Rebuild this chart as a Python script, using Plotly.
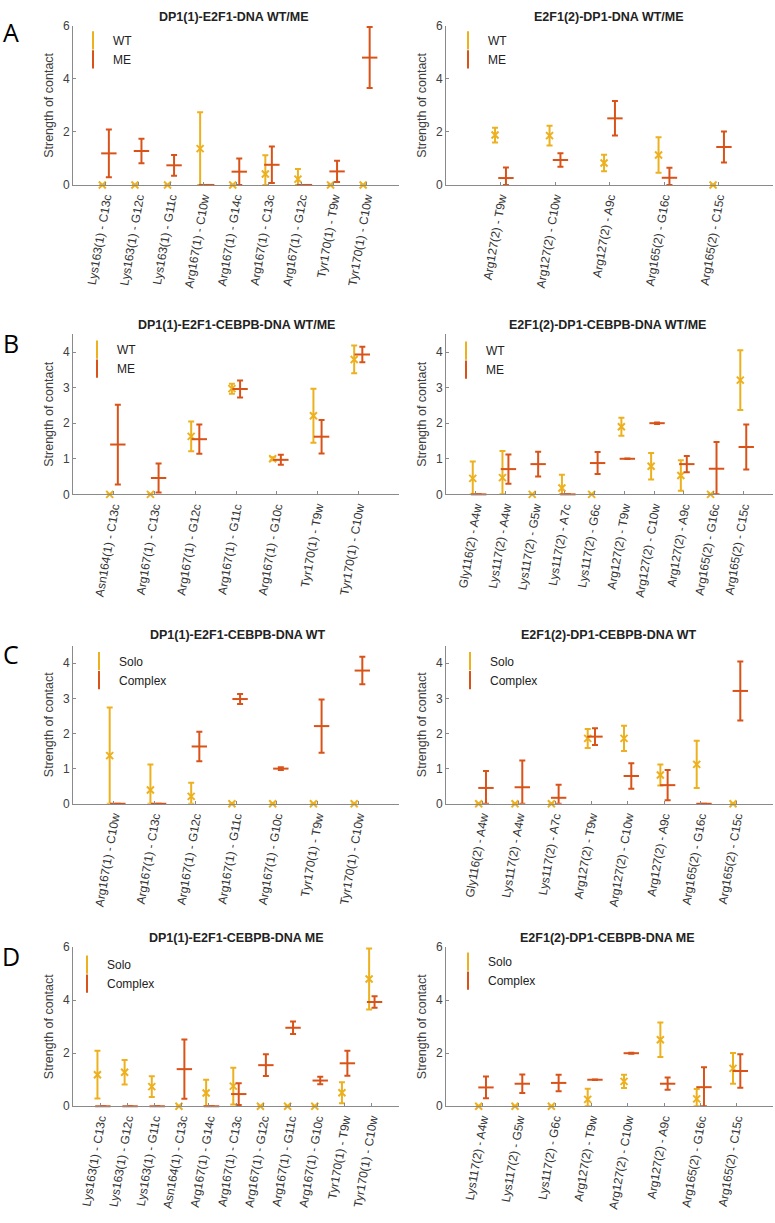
import numpy as np
import plotly.graph_objects as go

W, H = 775, 1223
C_A = "#EDB120"   # WT / Solo
C_B = "#D95319"   # ME / Complex

# ---------------- DATA ----------------
# Panel A left: DP1(1)-E2F1-DNA WT/ME
a1_cats = ["Lys163(1) - C13c", "Lys163(1) - G12c", "Lys163(1) - G11c", "Arg167(1) - C10w",
           "Arg167(1) - G14c", "Arg167(1) - C13c", "Arg167(1) - G12c", "Tyr170(1) - T9w", "Tyr170(1) - C10w"]
a1_wt = [0, 0, 0, 1.37, 0, 0.41, 0.22, 0, 0]
a1_wt_err = [0, 0, 0, 1.37, 0, 0.71, 0.38, 0, 0]
a1_me = [1.19, 1.28, 0.74, 0, 0.50, 0.76, 0, 0.51, 4.80]
a1_me_err = [0.90, 0.46, 0.39, 0, 0.50, 0.69, 0, 0.40, 1.15]

# Panel A right: E2F1(2)-DP1-DNA WT/ME
a2_cats = ["Arg127(2) - T9w", "Arg127(2) - C10w", "Arg127(2) - A9c", "Arg165(2) - G16c", "Arg165(2) - C15c"]
a2_wt = [1.88, 1.86, 0.83, 1.13, 0]
a2_wt_err = [0.28, 0.37, 0.31, 0.67, 0]
a2_me = [0.26, 0.94, 2.51, 0.27, 1.43]
a2_me_err = [0.40, 0.25, 0.65, 0.38, 0.58]

# Panel B left: DP1(1)-E2F1-CEBPB-DNA WT/ME
b1_cats = ["Asn164(1) - C13c", "Arg167(1) - C13c", "Arg167(1) - G12c", "Arg167(1) - G11c",
           "Arg167(1) - G10c", "Tyr170(1) - T9w", "Tyr170(1) - C10w"]
b1_wt = [0, 0, 1.63, 2.97, 1.00, 2.21, 3.79]
b1_wt_err = [0, 0, 0.42, 0.14, 0.04, 0.76, 0.39]
b1_me = [1.40, 0.46, 1.55, 2.96, 0.97, 1.62, 3.93]
b1_me_err = [1.12, 0.41, 0.41, 0.24, 0.14, 0.47, 0.22]

# Panel B right: E2F1(2)-DP1-CEBPB-DNA WT/ME
b2_cats = ["Gly116(2) - A4w", "Lys117(2) - A4w", "Lys117(2) - G5w", "Lys117(2) - A7c", "Lys117(2) - G6c",
           "Arg127(2) - T9w", "Arg127(2) - C10w", "Arg127(2) - A9c", "Arg165(2) - G16c", "Arg165(2) - C15c"]
b2_wt = [0.45, 0.47, 0, 0.18, 0, 1.90, 0.79, 0.53, 0, 3.21]
b2_wt_err = [0.47, 0.75, 0, 0.37, 0, 0.25, 0.37, 0.43, 0, 0.84]
b2_me = [0, 0.71, 0.85, 0, 0.88, 1.00, 2.00, 0.85, 0.72, 1.33]
b2_me_err = [0, 0.41, 0.35, 0, 0.31, 0.01, 0.02, 0.23, 0.75, 0.63]

# Panel C left: DP1(1)-E2F1-CEBPB-DNA WT
c1_cats = ["Arg167(1) - C10w", "Arg167(1) - C13c", "Arg167(1) - G12c", "Arg167(1) - G11c",
           "Arg167(1) - G10c", "Tyr170(1) - T9w", "Tyr170(1) - C10w"]
c1_solo = [1.37, 0.39, 0.21, 0, 0, 0, 0]
c1_solo_err = [1.37, 0.73, 0.39, 0, 0, 0, 0]
c1_cplx = [0, 0, 1.63, 2.98, 1.00, 2.21, 3.79]
c1_cplx_err = [0, 0, 0.42, 0.14, 0.04, 0.76, 0.39]

# Panel C right: E2F1(2)-DP1-CEBPB-DNA WT
c2_cats = ["Gly116(2) - A4w", "Lys117(2) - A4w", "Lys117(2) - A7c", "Arg127(2) - T9w",
           "Arg127(2) - C10w", "Arg127(2) - A9c", "Arg165(2) - G16c", "Arg165(2) - C15c"]
c2_solo = [0, 0, 0, 1.86, 1.86, 0.82, 1.12, 0]
c2_solo_err = [0, 0, 0, 0.27, 0.36, 0.30, 0.67, 0]
c2_cplx = [0.45, 0.47, 0.17, 1.91, 0.79, 0.53, 0, 3.21]
c2_cplx_err = [0.48, 0.76, 0.37, 0.24, 0.36, 0.43, 0, 0.84]

# Panel D left: DP1(1)-E2F1-CEBPB-DNA ME
d1_cats = ["Lys163(1) - C13c", "Lys163(1) - G12c", "Lys163(1) - G11c", "Asn164(1) - C13c",
           "Arg167(1) - G14c", "Arg167(1) - C13c", "Arg167(1) - G12c", "Arg167(1) - G11c",
           "Arg167(1) - G10c", "Tyr170(1) - T9w", "Tyr170(1) - C10w"]
d1_solo = [1.19, 1.28, 0.74, 0, 0.50, 0.76, 0, 0, 0, 0.51, 4.80]
d1_solo_err = [0.90, 0.46, 0.39, 0, 0.50, 0.69, 0, 0, 0, 0.40, 1.15]
d1_cplx = [0, 0, 0, 1.40, 0, 0.46, 1.55, 2.96, 0.97, 1.62, 3.93]
d1_cplx_err = [0, 0, 0, 1.12, 0, 0.41, 0.41, 0.24, 0.14, 0.47, 0.22]

# Panel D right: E2F1(2)-DP1-CEBPB-DNA ME
d2_cats = ["Lys117(2) - A4w", "Lys117(2) - G5w", "Lys117(2) - G6c", "Arg127(2) - T9w",
           "Arg127(2) - C10w", "Arg127(2) - A9c", "Arg165(2) - G16c", "Arg165(2) - C15c"]
d2_solo = [0, 0, 0, 0.26, 0.94, 2.51, 0.28, 1.43]
d2_solo_err = [0, 0, 0, 0.40, 0.25, 0.65, 0.37, 0.58]
d2_cplx = [0.71, 0.85, 0.88, 1.00, 2.00, 0.85, 0.72, 1.33]
d2_cplx_err = [0.41, 0.35, 0.31, 0.01, 0.02, 0.23, 0.75, 0.63]

titles = ["DP1(1)-E2F1-DNA WT/ME", "E2F1(2)-DP1-DNA WT/ME",
          "DP1(1)-E2F1-CEBPB-DNA WT/ME", "E2F1(2)-DP1-CEBPB-DNA WT/ME",
          "DP1(1)-E2F1-CEBPB-DNA WT", "E2F1(2)-DP1-CEBPB-DNA WT",
          "DP1(1)-E2F1-CEBPB-DNA ME", "E2F1(2)-DP1-CEBPB-DNA ME"]
letters = ["A", "B", "C", "D"]

panels = [
    (a1_cats, a1_wt, a1_wt_err, a1_me, a1_me_err, ("WT", "ME")),
    (a2_cats, a2_wt, a2_wt_err, a2_me, a2_me_err, ("WT", "ME")),
    (b1_cats, b1_wt, b1_wt_err, b1_me, b1_me_err, ("WT", "ME")),
    (b2_cats, b2_wt, b2_wt_err, b2_me, b2_me_err, ("WT", "ME")),
    (c1_cats, c1_solo, c1_solo_err, c1_cplx, c1_cplx_err, ("Solo", "Complex")),
    (c2_cats, c2_solo, c2_solo_err, c2_cplx, c2_cplx_err, ("Solo", "Complex")),
    (d1_cats, d1_solo, d1_solo_err, d1_cplx, d1_cplx_err, ("Solo", "Complex")),
    (d2_cats, d2_solo, d2_solo_err, d2_cplx, d2_cplx_err, ("Solo", "Complex")),
]

# ---------------- LAYOUT (pixels) ----------------
x_left = (73, 399)
x_right = (446, 773)
rows_px = [(19, 180), (331, 493), (646, 806), (951, 1112)]
y_max = [6, 4.5, 4.5, 6]
y_dtick = [2, 1, 1, 2]
title_y = [10, 322, 635, 942]
title_x = [234, 609, 237, 607, 238, 609, 236, 607]
letter_y = [25, 340, 654, 960]
legend_marker_px = [(89, 33), (464, 33), (93, 346), (462, 347), (95, 661), (466, 661), (83, 968), (464, 965)]

FONT = "Liberation Sans, Arial, sans-serif"
AX_COL = "#8a8a8a"
TXT_COL = "#404040"


def fx(px):
    return px / W


def fy(py):
    return 1 - py / H


fig = go.Figure()
layout = dict(
    width=W, height=H, margin=dict(l=0, r=0, t=0, b=0),
    paper_bgcolor="white", plot_bgcolor="white",
    font=dict(family=FONT, color=TXT_COL),
)
annotations = []

for i, (cats, v1, e1, v2, e2, names) in enumerate(panels):
    row, col = divmod(i, 2)
    k = i + 1
    xa = "x" if k == 1 else f"x{k}"
    ya = "y" if k == 1 else f"y{k}"
    lg = "legend" if k == 1 else f"legend{k}"
    n = len(cats)
    pos = np.arange(1, n + 1)
    v1a, e1a, v2a, e2a = map(np.asarray, (v1, e1, v2, e2))
    fig.add_trace(go.Scatter(
        x=pos - 0.1, y=v1a, mode="markers", name=names[0], xaxis=xa, yaxis=ya, showlegend=False,
        marker=dict(symbol="x-thin", size=7, line=dict(width=2, color=C_A), color=C_A),
        error_y=dict(type="data", array=e1a, arrayminus=np.minimum(e1a, v1a), color=C_A,
                     thickness=2, width=3),
        cliponaxis=False))
    fig.add_trace(go.Scatter(
        x=pos + 0.1, y=v2a, mode="markers", name=names[1], xaxis=xa, yaxis=ya, showlegend=False,
        marker=dict(symbol="line-ew", size=11, line=dict(width=2, color=C_B), color=C_B),
        error_y=dict(type="data", array=e2a, arrayminus=np.minimum(e2a, v2a), color=C_B,
                     thickness=2, width=3),
        cliponaxis=False))
    # legend entries (error-bar-like icons)
    for nm, colr in ((names[0], C_A), (names[1], C_B)):
        fig.add_trace(go.Scatter(
            x=[None], y=[None], mode="markers", name=nm, xaxis=xa, yaxis=ya, legend=lg,
            marker=dict(symbol="line-ns", size=13, line=dict(width=2, color=colr), color=colr)))

    xd = x_left if col == 0 else x_right
    yd = rows_px[row]
    layout["xaxis" if k == 1 else f"xaxis{k}"] = dict(
        domain=[fx(xd[0]), fx(xd[1])], anchor=ya, range=[0, n + 1],
        tickmode="array", tickvals=pos, ticktext=cats, tickangle=-80,
        ticks="inside", ticklen=3, tickcolor=AX_COL,
        showline=True, linecolor=AX_COL, linewidth=1, showgrid=False, zeroline=False,
        tickfont=dict(size=12, color="#333333", family=FONT))
    layout["yaxis" if k == 1 else f"yaxis{k}"] = dict(
        domain=[fy(yd[1]), fy(yd[0])], anchor=xa, range=[0, y_max[row]], dtick=y_dtick[row],
        ticks="inside", ticklen=3, tickcolor=AX_COL,
        showline=True, linecolor=AX_COL, linewidth=1, showgrid=False, zeroline=False,
        tickfont=dict(size=12, color=TXT_COL, family=FONT),
        title=dict(text="Strength of contact", font=dict(size=12.5, color=TXT_COL), standoff=6))
    mx, my = legend_marker_px[i]
    layout[lg] = dict(x=fx(mx - 16), y=fy(my - 14), xanchor="left", yanchor="top",
                      bgcolor="rgba(0,0,0,0)", font=dict(size=12, color="#222222", family=FONT),
                      itemwidth=30, tracegroupgap=0)

    annotations.append(dict(text=f"<b>{titles[i]}</b>", x=fx(title_x[i]), y=fy(title_y[row]),
                            xref="paper", yref="paper", xanchor="center", yanchor="middle",
                            showarrow=False, font=dict(size=12.5, color="#222222", family=FONT)))

for r, L in enumerate(letters):
    annotations.append(dict(text=L, x=fx(11), y=fy(letter_y[r]), xref="paper", yref="paper",
                            xanchor="center", yanchor="middle", showarrow=False,
                            font=dict(size=25, color="black", family="Open Sans")))

layout["annotations"] = annotations
fig.update_layout(**layout)
fig.write_html("out.html", config={"displayModeBar": False},
               post_script="document.body.style.margin='0';")
